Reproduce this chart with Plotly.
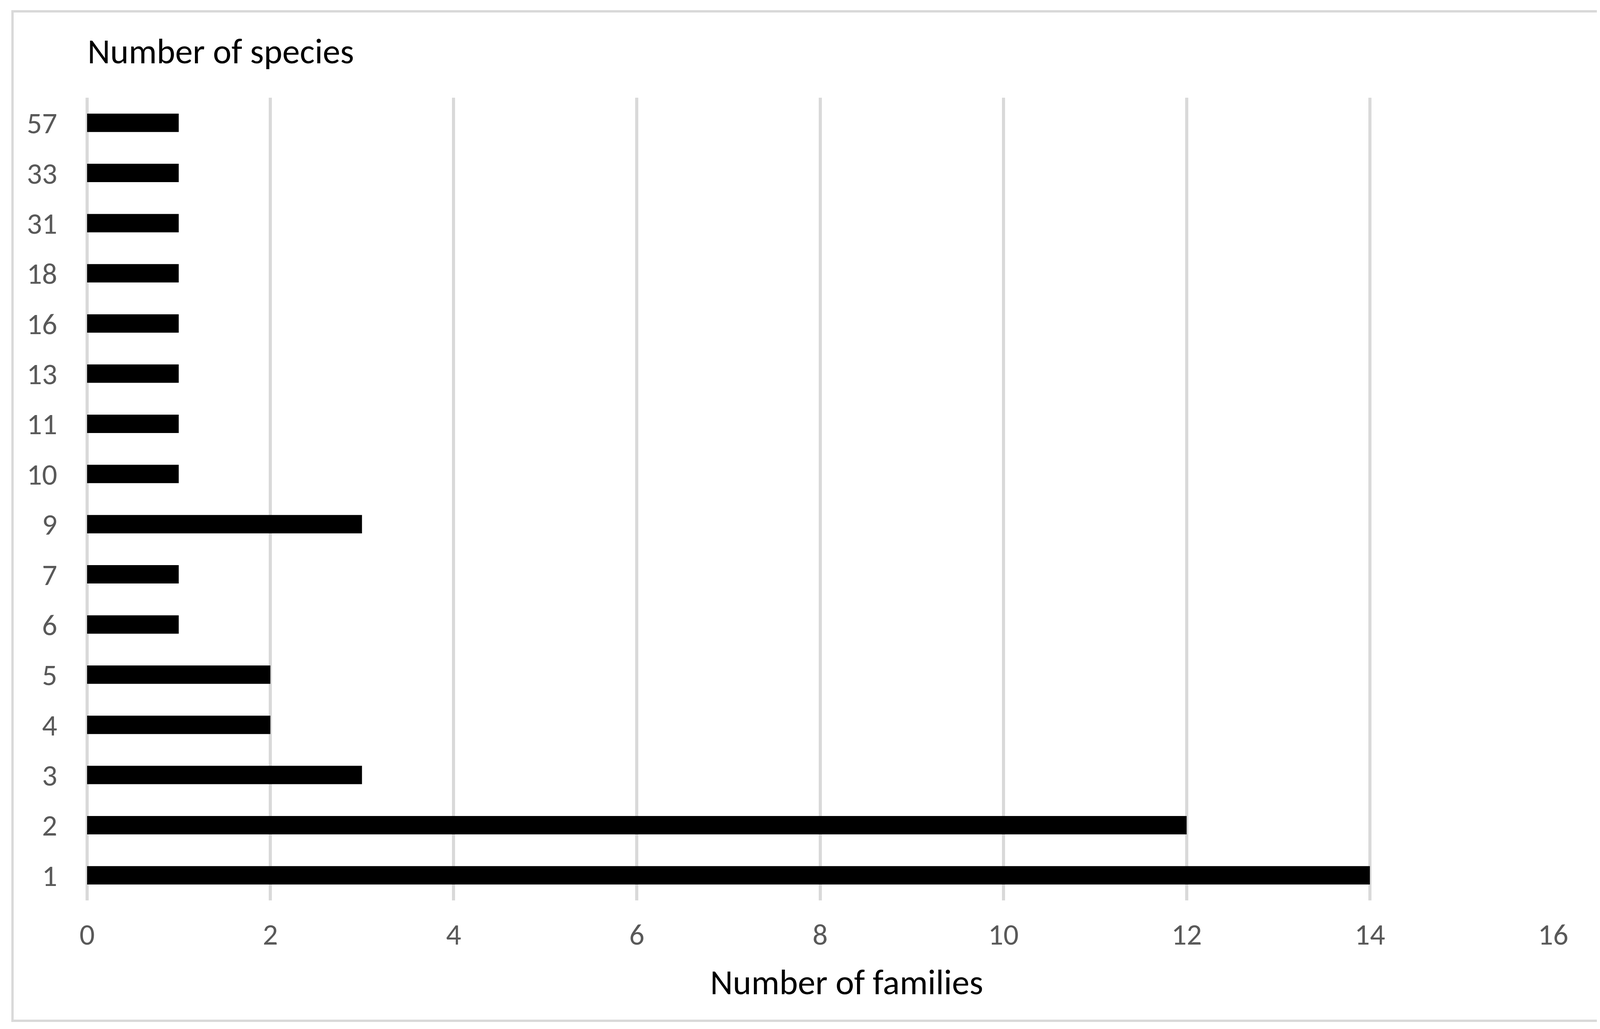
import plotly.graph_objects as go

species = ["1", "2", "3", "4", "5", "6", "7", "9", "10", "11", "13", "16", "18", "31", "33", "57"]
families = [14, 12, 3, 2, 2, 1, 1, 3, 1, 1, 1, 1, 1, 1, 1, 1]
x_ticks = [0, 2, 4, 6, 8, 10, 12, 14, 16]

FONT = "Carlito, Calibri, sans-serif"
W, H = 4119, 2633
L, R, T, B = 215, 151, 242, 337
PW, PH = W - L - R, H - T - B


def px(xp):
    return (xp - L) / PW


def py(yp):
    return (H - B - yp) / PH


fig = go.Figure(
    go.Bar(
        x=families,
        y=species,
        orientation="h",
        marker=dict(color="#000000", line=dict(width=0)),
    )
)

fig.update_layout(
    width=W,
    height=H,
    margin=dict(l=L, r=R, t=T, b=B),
    paper_bgcolor="white",
    plot_bgcolor="white",
    bargap=0.633,
    showlegend=False,
    font=dict(family=FONT, color="#595959", size=77),
)

fig.update_xaxes(
    range=[0, 16],
    tickvals=x_ticks,
    showgrid=True,
    gridcolor="#d9d9d9",
    gridwidth=8,
    zeroline=True,
    zerolinecolor="#d9d9d9",
    zerolinewidth=8,
    showline=False,
    ticks="outside",
    ticklen=20,
    tickcolor="rgba(0,0,0,0)",
    tickfont=dict(family=FONT, size=77, color="#595959"),
)

fig.update_yaxes(
    type="category",
    categoryorder="array",
    categoryarray=species,
    showgrid=False,
    zeroline=False,
    showline=False,
    ticks="outside",
    ticklen=60,
    tickcolor="rgba(0,0,0,0)",
    tickfont=dict(family=FONT, size=77, color="#595959"),
)

fig.add_annotation(
    text="Number of species",
    xref="paper", yref="paper",
    x=px(214), y=py(123),
    xanchor="left", yanchor="middle",
    showarrow=False,
    font=dict(family=FONT, size=90, color="#000000"),
)

fig.add_annotation(
    text="Number of families",
    xref="paper", yref="paper",
    x=px(2159), y=py(2505),
    xanchor="center", yanchor="middle",
    showarrow=False,
    font=dict(family=FONT, size=90, color="#000000"),
)

fig.add_shape(
    type="rect",
    xref="paper", yref="paper",
    x0=px(24), x1=px(4092), y0=py(2604), y1=py(21),
    line=dict(color="#d9d9d9", width=6),
    fillcolor="rgba(0,0,0,0)",
    layer="below",
)

fig.write_html("out.html")
